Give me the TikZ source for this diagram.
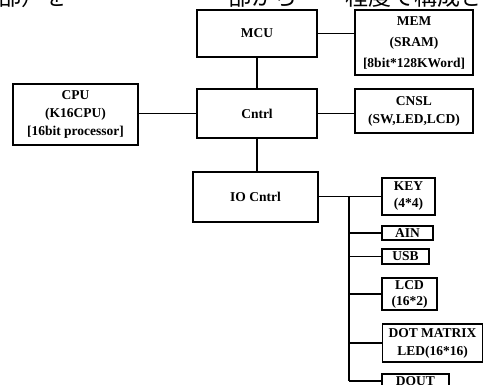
\documentclass[tikz,border=0pt]{standalone}
\usepackage{fontspec}
\setmainfont{Liberation Serif}
\newfontfamily\jpfont{Noto Sans CJK JP}
\begin{document}
\begin{tikzpicture}[x=1pt,y=-1pt,
  box/.style={draw,line width=1.5pt,inner sep=0pt,align=center,
    font=\fontsize{13.5}{18}\selectfont\bfseries},
  wire/.style={line width=1.5pt},
  captext/.style={anchor=base west,inner sep=0pt,font=\jpfont\fontsize{23}{23}\selectfont}]
\clip (0,0) rectangle (483,384);
\useasboundingbox (0,0) rectangle (483,384);
% cropped caption line
\node[captext] (cap1) at (-2,5.5) {部）を};
\node[captext] (cap2) at (228,5.5) {部から};
\node[captext] (cap3) at (345,5.5) {程度で構成さ};
% boxes
\node[box,minimum width=120,minimum height=47] (mcu) at (257,33.5) {MCU};
\node[box,minimum width=118,minimum height=65,font=\fontsize{13.5}{21}\selectfont\bfseries] (mem) at (414,42.5) {MEM\\(SRAM)\\{[}8bit*128KWord{]}};
\node[box,minimum width=120,minimum height=49] (cntrl) at (257,113.5) {Cntrl};
\node[box,minimum width=125,minimum height=61] (cpu) at (75.5,114.5) {CPU\\(K16CPU)\\{[}16bit processor{]}};
\node[box,minimum width=118,minimum height=44] (cnsl) at (414,111) {CNSL\\(SW,LED,LCD)};
\node[box,minimum width=125,minimum height=50] (io) at (255.5,197) {IO Cntrl};
\node[box,minimum width=53,minimum height=37,font=\fontsize{13.5}{17}\selectfont\bfseries] (key) at (408.5,196.5) {KEY\\(4*4)};
\node[box,minimum width=51,minimum height=14] (ain) at (407.5,233) {AIN};
\node[box,minimum width=47,minimum height=15] (usb) at (405.5,256.5) {USB};
\node[box,minimum width=55,minimum height=32,font=\fontsize{13.5}{16}\selectfont\bfseries] (lcd) at (409.5,294) {LCD\\(16*2)};
\node[box,minimum width=100,minimum height=38] (dot) at (432.5,343) {DOT MATRIX\\LED(16*16)};
\node[box,minimum width=67,minimum height=14] (dout) at (415.5,381) {DOUT};
% connectors
\coordinate (bus) at (349,196.5);
\coordinate (busend) at (349,381);
\draw[wire] (mcu.east) -- (mcu.east -| mem.west);
\draw[wire] (mcu.south) -- (cntrl.north);
\draw[wire] (cntrl.west) -- (cntrl.west -| cpu.east);
\draw[wire] (cntrl.east) -- (cntrl.east -| cnsl.west);
\draw[wire] (cntrl.south) -- (cntrl.south |- io.north);
\draw[wire] (io.east |- key.west) -- (key.west);
\draw[wire] (bus) -- (busend);
\draw[wire] (bus |- ain.west) -- (ain.west);
\draw[wire] (bus |- usb.west) -- (usb.west);
\draw[wire] (bus |- lcd.west) -- (lcd.west);
\draw[wire] (bus |- dot.west) -- (dot.west);
\draw[wire] (busend) -- (dout.west);
\end{tikzpicture}
\end{document}
